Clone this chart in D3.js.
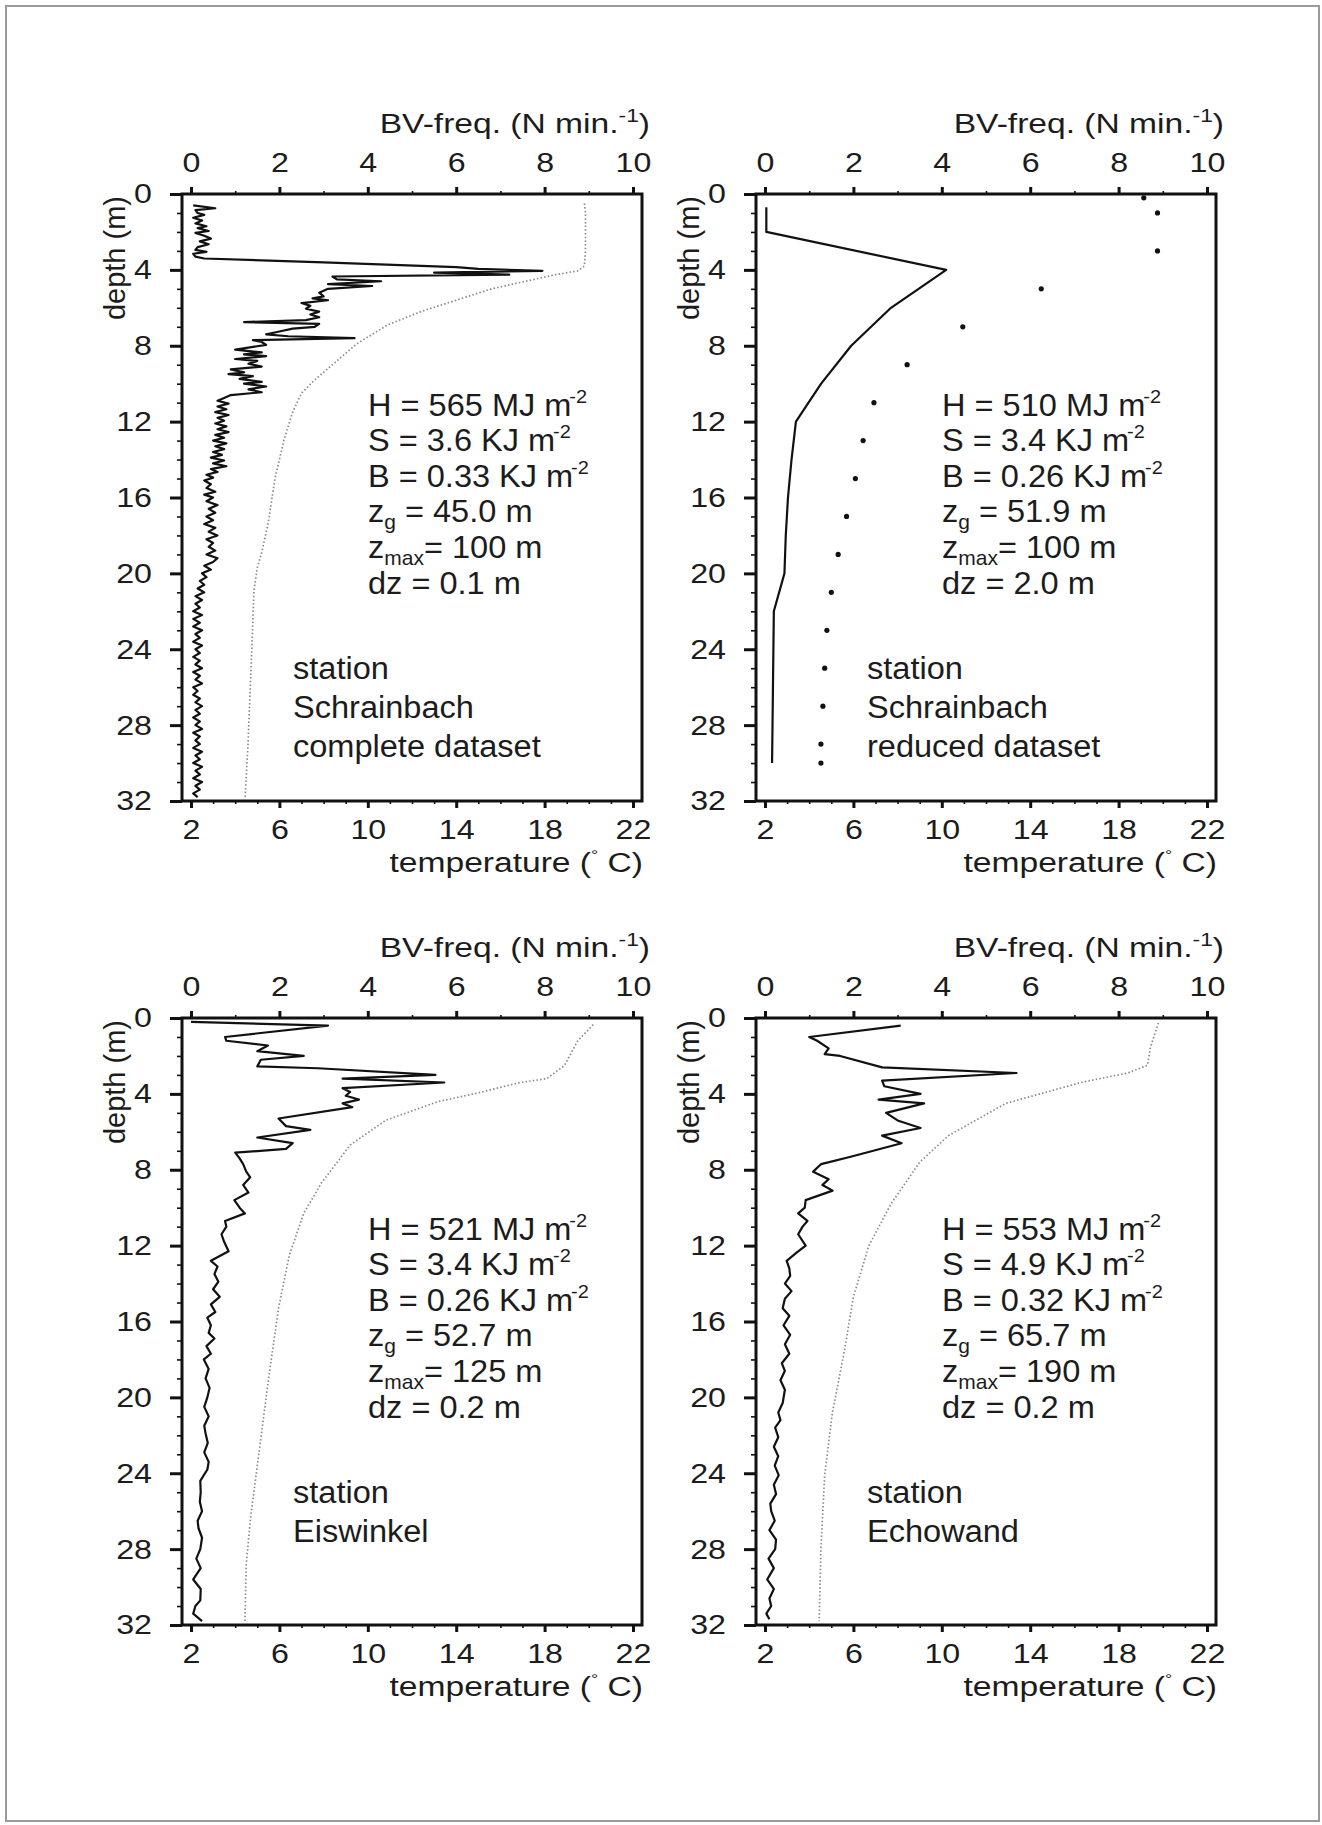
<!DOCTYPE html>
<html>
<head>
<meta charset="utf-8">
<script src="https://cdn.jsdelivr.net/npm/d3@7"></script>
<style>
  body { margin: 0; background: #fff; }
  text { font-family: "Liberation Sans", Arial, sans-serif; fill: #1c1c1c; }
</style>
</head>
<body>
<svg id="fig" width="1322" height="1825"></svg>
<script>
// ---- tick values ----
const bvTicks = [0, 2, 4, 6, 8, 10];
const bvMinor = [1, 3, 5, 7, 9];
const tempTicks = [2, 6, 10, 14, 18, 22];
const tempMinor = [3, 4, 5, 7, 8, 9, 11, 12, 13, 15, 16, 17, 19, 20, 21];
const depthTicks = [0, 4, 8, 12, 16, 20, 24, 28, 32];
const depthMinor = [1, 2, 3, 5, 6, 7, 9, 10, 11, 13, 14, 15, 17, 18, 19, 21, 22, 23, 25, 26, 27, 29, 30, 31];

// ---- station Schrainbach, complete dataset: [depth m, BV-freq] ----
const bvSchrainbachFull = [
  [0.6,0.05],[0.75,0.55],[0.85,0.1],[1.0,0.15],[1.1,0.3],[1.25,0.05],[1.4,0.25],[1.55,0.1],[1.7,0.35],[1.8,0.15],
  [1.95,0.4],[2.05,0.1],[2.2,0.3],[2.35,0.45],[2.5,0.2],[2.65,0.4],[2.8,0.15],[2.95,0.1],[3.05,0.35],[3.15,0.05],
  [3.3,0.1],[3.4,0.3],[3.6,3.0],[3.85,6.0],[3.95,6.5],[4.05,7.95],[4.15,5.5],[4.25,7.2],[4.35,3.2],[4.5,3.3],
  [4.6,4.3],[4.75,3.1],[4.85,4.1],[5.0,3.1],[5.2,2.9],[5.4,3.0],[5.5,2.75],[5.6,3.1],[5.75,2.5],[5.9,2.7],
  [6.05,2.6],[6.2,2.9],[6.35,2.7],[6.5,2.9],[6.65,2.6],[6.75,1.2],[6.85,2.9],[7.0,2.8],[7.1,2.3],[7.25,2.0],
  [7.4,1.7],[7.5,2.2],[7.6,3.7],[7.7,1.4],[7.8,1.6],[7.95,1.7],[8.1,1.3],[8.2,1.0],[8.35,1.6],[8.45,1.2],
  [8.55,1.7],[8.7,1.0],[8.8,1.5],[8.95,1.3],[9.1,1.6],[9.25,0.9],[9.4,1.2],[9.5,0.85],[9.6,1.4],[9.75,1.1],
  [9.9,1.6],[10.0,1.2],[10.15,1.7],[10.3,1.3],[10.45,1.6],[10.6,0.9],[10.75,0.75],[10.9,0.6],[11.05,0.85],[11.2,0.6],
  [11.35,0.8],[11.5,0.55],[11.65,0.85],[11.8,0.6],[11.95,0.75],[12.1,0.55],[12.25,0.8],[12.4,0.6],[12.55,0.85],[12.7,0.55],
  [12.85,0.75],[13.0,0.5],[13.15,0.8],[13.3,0.55],[13.45,0.75],[13.6,0.5],[13.75,0.7],[13.9,0.45],[14.05,0.75],[14.2,0.5],
  [14.35,0.8],[14.5,0.45],[14.65,0.6],[14.8,0.35],[14.95,0.5],[15.1,0.3],[15.3,0.45],[15.5,0.35],[15.7,0.55],[15.85,0.3],
  [16.0,0.5],[16.2,0.35],[16.4,0.6],[16.6,0.4],[16.8,0.55],[17.0,0.35],[17.2,0.5],[17.4,0.3],[17.6,0.55],[17.8,0.4],
  [18.0,0.6],[18.2,0.35],[18.4,0.5],[18.6,0.4],[18.8,0.55],[19.0,0.35],[19.2,0.6],[19.4,0.5],[19.6,0.3],[19.8,0.45],
  [20.0,0.25],[20.2,0.35],[20.4,0.2],[20.6,0.3],[20.8,0.15],[21.0,0.3],[21.2,0.1],[21.4,0.25],[21.6,0.1],[21.8,0.2],
  [22.0,0.05],[22.2,0.25],[22.4,0.05],[22.6,0.2],[22.8,0.05],[23.0,0.25],[23.2,0.1],[23.4,0.2],[23.6,0.05],[23.8,0.25],
  [24.0,0.1],[24.2,0.2],[24.4,0.05],[24.6,0.2],[24.8,0.1],[25.0,0.25],[25.2,0.05],[25.4,0.2],[25.6,0.1],[25.8,0.25],
  [26.0,0.05],[26.2,0.15],[26.4,0.05],[26.6,0.2],[26.8,0.1],[27.0,0.25],[27.2,0.1],[27.4,0.2],[27.6,0.05],[27.8,0.2],
  [28.0,0.1],[28.2,0.25],[28.4,0.05],[28.6,0.2],[28.8,0.1],[29.0,0.2],[29.2,0.05],[29.4,0.25],[29.6,0.1],[29.8,0.2],
  [30.0,0.05],[30.2,0.25],[30.4,0.1],[30.6,0.2],[30.8,0.05],[31.0,0.25],[31.2,0.1],[31.4,0.2],[31.6,0.05],[31.8,0.15]
];
const tempSchrainbachFull = [
  [0.5,19.8],[1,19.85],[2,19.85],[3,19.85],[3.8,19.8],[4.05,19.5],[4.25,18.5],[5,15.6],[6.2,12.4],[6.9,10.9],
  [7.9,9.5],[9,8.4],[9.8,7.6],[10.5,7.0],[11.5,6.6],[13,6.2],[15,5.8],[17.3,5.5],[18.9,5.2],[19.7,5.0],
  [20.9,4.85],[24,4.75],[29,4.58],[31.8,4.45]
];

// ---- station Schrainbach, reduced dataset ----
const bvSchrainbachReduced = [
  [0.7,0.03],[2,0.03],[4,4.1],[6,2.85],[8,1.95],[10,1.27],[12,0.7],[14,0.6],
  [16,0.52],[18,0.47],[20,0.44],[22,0.2],[24,0.19],[26,0.18],[28,0.17],[30,0.16]
];
const tempSchrainbachReduced = [
  [0.2,19.14],[1,19.76],[3,19.76],[5,14.5],[7,10.95],[9,8.43],[11,6.93],[13,6.44],[15,6.09],
  [17,5.69],[19,5.31],[21,5.0],[23,4.8],[25,4.7],[27,4.62],[29,4.53],[30,4.53]
];

// ---- station Eiswinkel ----
const bvEiswinkel = [
  [0.2,0.0],[0.4,3.1],[1.0,0.77],[1.2,0.8],[1.45,1.74],[1.75,1.5],[2.0,2.55],[2.2,1.58],[2.55,1.5],[2.65,2.87],
  [3.0,5.53],[3.2,3.43],[3.4,5.73],[3.7,3.43],[3.9,3.6],[4.1,3.5],[4.3,3.8],[4.5,3.43],[4.7,3.65],[5.3,1.98],
  [5.7,2.15],[5.9,2.7],[6.3,1.5],[6.6,2.3],[6.9,2.15],[7.1,1.0],[7.4,1.1],[7.7,1.18],[8.1,1.25],[8.4,1.34],
  [8.8,1.18],[9.2,1.3],[9.6,0.98],[10.0,1.1],[10.3,1.22],[10.7,0.77],[11.0,0.8],[11.4,0.69],[11.8,0.75],[12.3,0.85],
  [12.8,0.45],[13.1,0.6],[13.5,0.53],[13.9,0.62],[14.3,0.5],[14.7,0.65],[15.1,0.45],[15.5,0.55],[15.8,0.37],[16.2,0.45],
  [16.6,0.4],[16.9,0.53],[17.3,0.35],[17.7,0.45],[18.0,0.29],[18.5,0.4],[19.0,0.33],[19.5,0.42],[20.0,0.37],[20.5,0.3],
  [21.0,0.4],[21.5,0.3],[21.9,0.33],[22.4,0.38],[22.9,0.3],[23.4,0.4],[23.8,0.37],[24.4,0.21],[25.0,0.22],[25.5,0.2],
  [26.0,0.25],[26.5,0.15],[26.9,0.17],[27.4,0.25],[28.0,0.21],[28.5,0.12],[29.0,0.22],[29.6,0.05],[30.1,0.22],[30.7,0.21],
  [31.0,0.1],[31.4,0.05],[31.8,0.25]
];
const tempEiswinkel = [
  [0.35,20.2],[1.2,19.5],[2.5,18.9],[3.2,18.1],[3.4,16.9],[4.0,14.8],[4.4,13.2],[5.4,10.8],[6.7,9.2],
  [8.7,7.9],[10.3,7.1],[12.5,6.45],[15.3,5.96],[19.1,5.5],[23.6,5.0],[26.3,4.7],[28.8,4.5],[31.8,4.44]
];

// ---- station Echowand ----
const bvEchowand = [
  [0.4,3.07],[1.0,1.0],[1.2,1.18],[1.6,1.44],[1.9,1.35],[2.0,1.7],[2.6,2.65],[2.9,5.69],[3.3,2.65],[3.6,2.7],
  [4.0,3.52],[4.3,2.57],[4.5,3.6],[5.0,2.74],[5.4,3.0],[5.8,3.52],[6.2,2.65],[6.6,3.09],[7.3,1.96],[7.7,1.27],
  [8.1,1.09],[8.5,1.44],[8.8,1.3],[9.1,1.53],[9.6,0.92],[10.0,0.9],[10.3,0.75],[10.7,0.96],[11.0,0.85],[11.4,0.75],
  [12.0,0.92],[12.4,0.7],[12.8,0.49],[13.2,0.55],[13.6,0.57],[14.0,0.45],[14.4,0.6],[14.8,0.45],[15.3,0.4],[15.7,0.55],
  [16.2,0.42],[16.7,0.57],[17.2,0.45],[17.7,0.55],[18.2,0.38],[18.6,0.45],[19.1,0.35],[19.6,0.45],[20.3,0.4],[20.8,0.3],
  [21.2,0.35],[21.6,0.23],[22.1,0.3],[22.6,0.2],[23.1,0.3],[23.6,0.22],[24.1,0.31],[24.6,0.2],[25.1,0.25],[25.6,0.12],
  [26.0,0.14],[26.5,0.22],[27.0,0.1],[27.5,0.25],[28.0,0.23],[28.5,0.08],[29.0,0.2],[29.6,0.05],[30.1,0.2],[30.6,0.1],
  [31.0,0.14],[31.4,0.03],[31.7,0.1]
];
const tempEchowand = [
  [0.26,19.8],[1.5,19.45],[2.5,19.3],[2.9,18.4],[3.4,16.3],[4.5,12.9],[6.2,10.3],[7.6,9.0],
  [9.8,7.7],[12.0,6.7],[14.7,6.0],[17.5,5.6],[20.8,5.05],[24.1,4.7],[28,4.53],[31.8,4.45]
];

// ---- annotation values: H, S, B, z_g, z_max, dz ----
const statsSchrainbachFull = ["565", "3.6", "0.33", "45.0", "100", "0.1"];
const statsSchrainbachReduced = ["510", "3.4", "0.26", "51.9", "100", "2.0"];
const statsEiswinkel = ["521", "3.4", "0.26", "52.7", "125", "0.2"];
const statsEchowand = ["553", "4.9", "0.32", "65.7", "190", "0.2"];

const svg = d3.select("#fig");
svg.append("rect").attr("width", 1322).attr("height", 1825).attr("fill", "#fff");
svg.append("rect").attr("x", 6).attr("y", 6).attr("width", 1313).attr("height", 1815)
  .attr("fill", "none").attr("stroke", "#9a9a9a").attr("stroke-width", 2);

const W = 460, H = 607;
const SX = 1.15; // reference lettering is horizontally wide

function drawPanel(px, py, bvData, tempData, dots, stats, station) {
  const g = svg.append("g").attr("transform", `translate(${px},${py})`);

  const x = d3.scaleLinear().domain([0, 10]).range([9, W - 9]);
  const xT = d3.scaleLinear().domain([2, 22]).range([9, W - 9]);
  const y = d3.scaleLinear().domain([0, 32]).range([0, H]);

  // minor ticks
  const minorAxes = [
    [d3.axisTop(x).tickValues(bvMinor).tickSize(3), "translate(0,0)"],
    [d3.axisBottom(xT).tickValues(tempMinor).tickSize(3), `translate(0,${H})`],
    [d3.axisLeft(y).tickValues(depthMinor).tickSize(5), "translate(0,0)"]
  ];
  minorAxes.forEach(([ax, tr]) => {
    const a = g.append("g").attr("transform", tr).call(ax.tickFormat(""));
    a.select(".domain").remove();
    a.selectAll("line").attr("stroke", "#111").attr("stroke-width", 1.6);
  });

  // major axes
  const top = g.append("g").call(d3.axisTop(x).tickValues(bvTicks).tickSizeInner(7).tickSizeOuter(0).tickPadding(15));
  const bottom = g.append("g").attr("transform", `translate(0,${H})`)
    .call(d3.axisBottom(xT).tickValues(tempTicks).tickSizeInner(7).tickSizeOuter(0).tickPadding(11));
  const left = g.append("g").call(d3.axisLeft(y).tickValues(depthTicks).tickSizeInner(12).tickSizeOuter(0).tickPadding(18));
  [top, bottom, left].forEach(a => {
    a.select(".domain").remove();
    a.attr("font-size", 28).attr("font-family", null);
    a.selectAll("line").attr("stroke", "#111").attr("stroke-width", 3);
    a.selectAll("text").attr("fill", "#1c1c1c").attr("transform", `scale(${SX},1)`);
  });
  left.selectAll("text").attr("x", -30 / SX);

  // frame
  g.append("rect").attr("width", W).attr("height", H)
    .attr("fill", "none").attr("stroke", "#111").attr("stroke-width", 3);

  // temperature profile
  if (dots) {
    g.selectAll("circle.t").data(tempData).join("circle")
      .attr("class", "t")
      .attr("cx", d => xT(d[1])).attr("cy", d => y(d[0])).attr("r", 2.6)
      .attr("fill", "#111");
  } else {
    g.append("path").datum(tempData)
      .attr("fill", "none").attr("stroke", "#8a8a8a").attr("stroke-width", 1.7)
      .attr("stroke-dasharray", "1.5,2.2")
      .attr("d", d3.line().x(d => xT(d[1])).y(d => y(d[0])));
  }

  // BV frequency profile
  g.append("path").datum(bvData)
    .attr("fill", "none").attr("stroke", "#111").attr("stroke-width", 2.2)
    .attr("stroke-linejoin", "round")
    .attr("d", d3.line().x(d => x(d[1])).y(d => y(d[0])));

  // axis titles
  const t1 = g.append("text").attr("text-anchor", "end").attr("font-size", 28)
    .attr("transform", `translate(${W + 8},-61) scale(1.2,1)`);
  t1.append("tspan").text("BV-freq. (N min.");
  t1.append("tspan").attr("font-size", 19).attr("dy", -11).text("-1");
  t1.append("tspan").attr("dy", 11).text(")");

  const t2 = g.append("text").attr("text-anchor", "end").attr("font-size", 28)
    .attr("transform", `translate(${W + 1},${H + 71}) scale(1.2,1)`);
  t2.append("tspan").text("temperature (");
  t2.append("tspan").attr("font-size", 15).attr("dy", -12).text("°");
  t2.append("tspan").attr("dy", 12).text(" C)");

  g.append("text").attr("text-anchor", "end").attr("font-size", 29)
    .attr("transform", "translate(-57,2) rotate(-90)")
    .text("depth (m)");

  // annotation block
  const ax = 186, base = [222, 257, 293, 328, 364, 400];
  const mk = (i) => g.append("text").attr("font-size", 31)
    .attr("transform", `translate(${ax},${base[i]}) scale(1.05,1)`);
  const sup = (t) => { t.append("tspan").attr("font-size", 19).attr("dx", -2).attr("dy", -13).text("-2"); };
  let t;
  t = mk(0); t.append("tspan").text(`H = ${stats[0]} MJ m`); sup(t);
  t = mk(1); t.append("tspan").text(`S = ${stats[1]} KJ m`); sup(t);
  t = mk(2); t.append("tspan").text(`B = ${stats[2]} KJ m`); sup(t);
  t = mk(3); t.append("tspan").text("z");
  t.append("tspan").attr("font-size", 20).attr("dy", 7).text("g");
  t.append("tspan").attr("dy", -7).text(` = ${stats[3]} m`);
  t = mk(4); t.append("tspan").text("z");
  t.append("tspan").attr("font-size", 20).attr("dy", 7).text("max");
  t.append("tspan").attr("dy", -7).text(`= ${stats[4]} m`);
  t = mk(5); t.append("tspan").text(`dz = ${stats[5]} m`);

  station.forEach((s, i) => {
    g.append("text").attr("font-size", 31)
      .attr("transform", `translate(111,${485 + i * 39}) scale(1.05,1)`)
      .text(s);
  });
}

drawPanel(182, 194, bvSchrainbachFull, tempSchrainbachFull, false, statsSchrainbachFull,
  ["station", "Schrainbach", "complete dataset"]);
drawPanel(756, 194, bvSchrainbachReduced, tempSchrainbachReduced, true, statsSchrainbachReduced,
  ["station", "Schrainbach", "reduced dataset"]);
drawPanel(182, 1018, bvEiswinkel, tempEiswinkel, false, statsEiswinkel,
  ["station", "Eiswinkel"]);
drawPanel(756, 1018, bvEchowand, tempEchowand, false, statsEchowand,
  ["station", "Echowand"]);
</script>
</body>
</html>
